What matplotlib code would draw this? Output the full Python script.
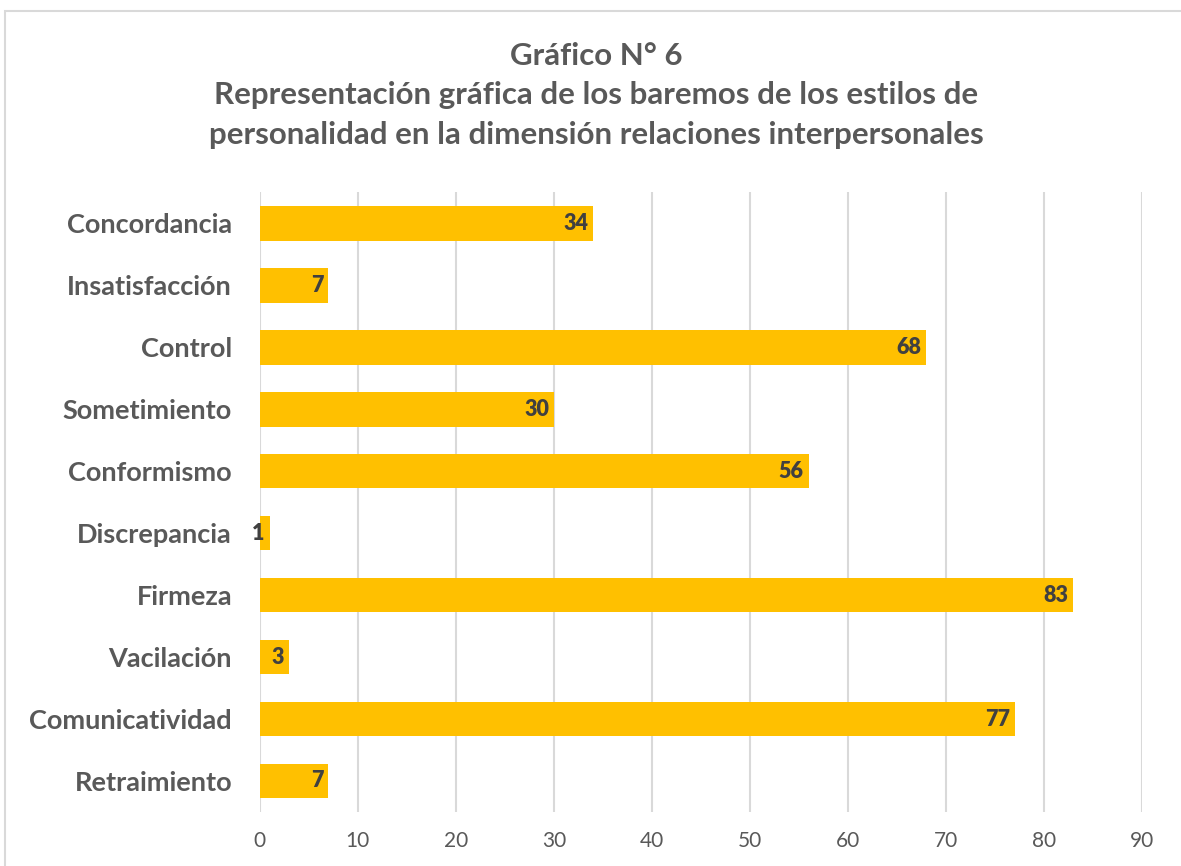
import matplotlib
matplotlib.use("Agg")
from matplotlib import pyplot as plt
from matplotlib.patches import Rectangle

categorias = ["Concordancia", "Insatisfacción", "Control", "Sometimiento", "Conformismo",
              "Discrepancia", "Firmeza", "Vacilación", "Comunicatividad", "Retraimiento"]
valores = [34, 7, 68, 30, 56, 1, 83, 3, 77, 7]
ticks_x = [0, 10, 20, 30, 40, 50, 60, 70, 80, 90]

titulo = "Gráfico N° 6\nRepresentación gráfica de los baremos de los estilos de\npersonalidad en la dimensión relaciones interpersonales"

plt.rcParams['font.family'] = ['Lato', 'DejaVu Sans']

fig = plt.figure(figsize=(11.81, 8.66), dpi=100)
ax = fig.add_axes([0.220, 0.0624, 0.747, 0.7156])

# marco del grafico
fig.patches.append(Rectangle((5/1181, -0.01), 1.02, 1 - 11/866 + 0.01, transform=fig.transFigure,
                             fill=False, edgecolor="#d9d9d9", linewidth=1.5))

pos = list(range(len(categorias)))
barras = ax.barh(pos, valores, height=0.56, color="#FFC000", zorder=3)
for b, v in zip(barras, valores):
    ax.text(b.get_width() - 0.5, b.get_y() + b.get_height() / 2, str(v),
            ha="right", va="center", fontsize=15.5, fontweight="heavy", color="#404040", zorder=4)

ax.set_yticks(pos)
ax.set_yticklabels(categorias, fontsize=19.5, fontweight="bold", color="#595959")
ax.set_ylim(len(categorias) - 0.5, -0.5)
ax.set_xlim(0, 90)
ax.set_xticks(ticks_x)
ax.set_xticklabels([str(t) for t in ticks_x], fontsize=15, color="#595959")
ax.tick_params(axis="both", length=0)
ax.tick_params(axis="x", pad=14)
ax.tick_params(axis="y", pad=20)
ax.grid(axis="x", color="#d9d9d9", linewidth=1.5, zorder=0)
for s in ax.spines.values():
    s.set_visible(False)

fig.text(0.505, 0.952, titulo, ha="center", va="top", fontsize=22.5, fontweight="bold",
         color="#595959", linespacing=1.5)

fig.savefig("out.png", dpi=100)
